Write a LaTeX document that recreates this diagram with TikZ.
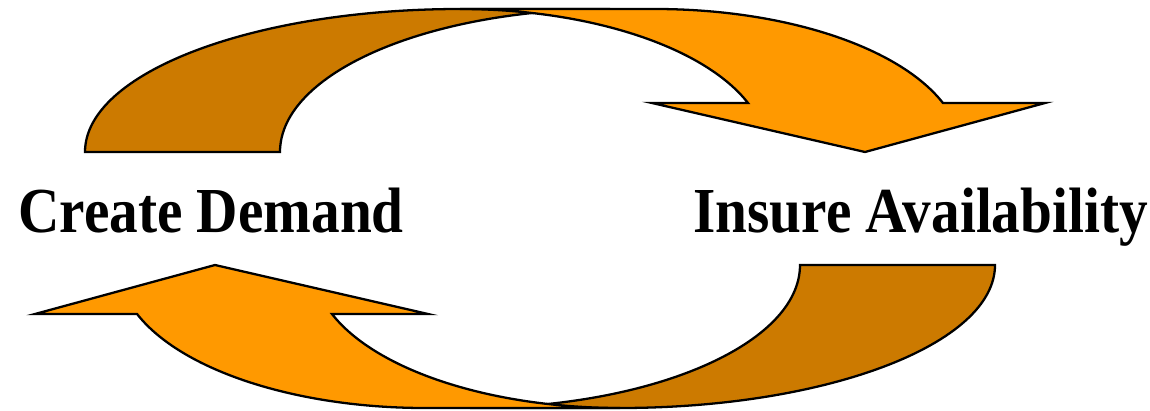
\documentclass[tikz,border=0pt]{standalone}
\usepackage{fontspec}
\setmainfont{Liberation Serif}
\usepackage{xcolor}
\usepackage{tikz}
\usetikzlibrary{positioning}
\definecolor{backband}{RGB}{204,122,0}
\definecolor{frontband}{RGB}{255,153,0}

\begin{document}
\begin{tikzpicture}[x=0.02cm, y=0.02cm,
  band/.style={draw=black, line width=1.3pt, line join=miter},
  label/.style={inner sep=0pt, anchor=base west, yscale=1.12, transform shape,
    font=\bfseries\fontsize{32.6}{36}\selectfont}]
  \useasboundingbox (0,0) rectangle (1150,410);
  % two curved arrows, the second one turned round the middle
  \foreach \ang in {0,180} {
    \begin{scope}[rotate around={\ang:(540,201.5)}]
      \fill[backband, band] (85,258) arc[start angle=180, end angle=90, x radius=375, y radius=143]
        -- (610,401) arc[start angle=90, end angle=180, x radius=330, y radius=143] -- cycle;
      \fill[frontband, band] (460,401) -- (655,401)
        arc[start angle=90, end angle=20.04, x radius=306.5, y radius=143]
        -- (1045,307) -- (865,258) -- (652,307) -- (748,307)
        arc[start angle=20.04, end angle=90, x radius=306.5, y radius=143] -- cycle;
    \end{scope}
  }
  \node[label] (create) at (18,178) {Create Demand};
  \node[label] (insure) at (693,178) {Insure Availability};
\end{tikzpicture}
\end{document}
